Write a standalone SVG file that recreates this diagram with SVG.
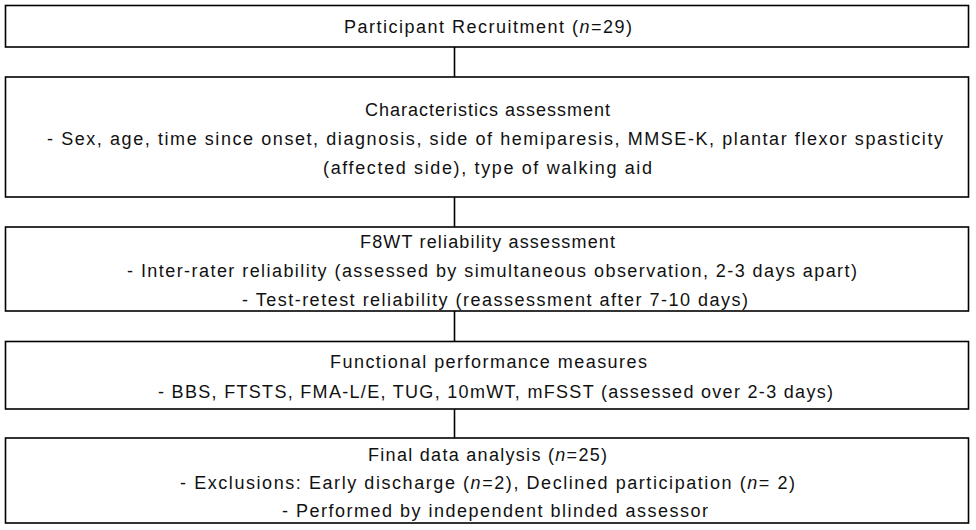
<svg xmlns="http://www.w3.org/2000/svg" width="976" height="530" viewBox="0 0 976 530">
<style>
.box{fill:#fff;stroke:#000;stroke-width:1.6}
.conn{stroke:#000;stroke-width:1.6;fill:none}
text{font-family:"Liberation Sans","DejaVu Sans",sans-serif;font-size:18px;fill:#111}
.i{font-style:italic}
</style>
<rect width="976" height="530" fill="#fff"/>
<g id="connectors">
<line class="conn" x1="454.5" y1="47" x2="454.5" y2="77"/>
<line class="conn" x1="454.5" y1="197" x2="454.5" y2="227"/>
<line class="conn" x1="454.5" y1="311" x2="454.5" y2="341.5"/>
<line class="conn" x1="454.5" y1="409" x2="454.5" y2="438"/>
</g>
<g id="recruitment">
<rect class="box" x="5.5" y="5.5" width="963" height="41.5"/>
<text x="344" y="33" textLength="288">Participant Recruitment (<tspan class="i">n</tspan>=29)</text>
</g>
<g id="characteristics">
<rect class="box" x="5.5" y="77" width="963" height="120"/>
<text x="365" y="116" textLength="245">Characteristics assessment</text>
<text x="47" y="145" textLength="896">- Sex, age, time since onset, diagnosis, side of hemiparesis, MMSE-K, plantar flexor spasticity</text>
<text x="323" y="174" textLength="329">(affected side), type of walking aid</text>
</g>
<g id="reliability">
<rect class="box" x="5.5" y="227" width="963" height="84"/>
<text x="360" y="248" textLength="255">F8WT reliability assessment</text>
<text x="127" y="277" textLength="730">- Inter-rater reliability (assessed by simultaneous observation, 2-3 days apart)</text>
<text x="242" y="306" textLength="506">- Test-retest reliability (reassessment after 7-10 days)</text>
</g>
<g id="functional">
<rect class="box" x="5.5" y="341.5" width="963" height="67.5"/>
<text x="330" y="368" textLength="317">Functional performance measures</text>
<text x="158" y="398" textLength="675">- BBS, FTSTS, FMA-L/E, TUG, 10mWT, mFSST (assessed over 2-3 days)</text>
</g>
<g id="final">
<rect class="box" x="5.5" y="438" width="963" height="85"/>
<text x="368" y="461" textLength="239">Final data analysis (<tspan class="i">n</tspan>=25)</text>
<text x="180" y="489" textLength="615">- Exclusions: Early discharge (<tspan class="i">n</tspan>=2), Declined participation (<tspan class="i">n</tspan>= 2)</text>
<text x="282" y="517" textLength="426">- Performed by independent blinded assessor</text>
</g>
</svg>
